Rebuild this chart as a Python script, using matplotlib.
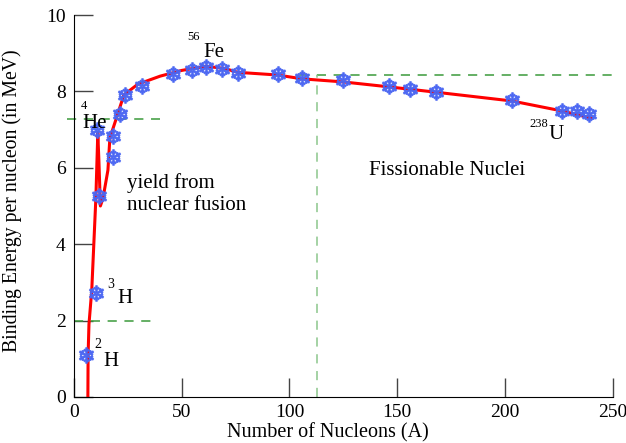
import numpy as np
import matplotlib
matplotlib.use("Agg")
from matplotlib import pyplot as plt

plt.rcParams['font.family'] = ['Liberation Serif', 'DejaVu Serif']

# measured nuclei (A, binding energy per nucleon in MeV)
nuc_A = [5.6, 10.2, 10.7, 11.6, 18.1, 18.1, 21.3, 23.7, 31.5, 45.9, 54.7, 61.2,
         68.6, 76.1, 94.6, 105.8, 124.8, 146.1, 155.8, 167.9, 203.2, 226.3, 233.3, 238.9]
nuc_B = [1.10, 2.72, 6.99, 5.26, 6.83, 6.28, 7.41, 7.91, 8.14, 8.46, 8.56, 8.64,
         8.59, 8.48, 8.46, 8.35, 8.30, 8.14, 8.06, 7.98, 7.77, 7.49, 7.49, 7.41]

# hand drawn trend curve
curve_A = [6.5, 6.6, 7.0, 8.3, 10.2, 11.1, 11.6, 12.3, 13.5, 15.8, 16.7, 19.9, 23.2,
           29.7, 40.0, 50.0, 61.2, 70.0, 76.1, 94.6, 105.8, 124.8, 146.1, 167.9,
           203.2, 226.3, 240.0]
curve_B = [0.0, 1.1, 1.9, 2.8, 5.2, 6.91, 6.2, 5.0, 5.2, 5.94, 6.78, 7.33, 7.91,
           8.19, 8.40, 8.55, 8.66, 8.60, 8.50, 8.43, 8.33, 8.25, 8.12, 7.98,
           7.75, 7.49, 7.30]

fig = plt.figure(figsize=(6.26, 4.43), dpi=100)
ax = fig.add_axes([0.118, 0.104, 0.861, 0.862])

ax.plot(curve_A, curve_B, '-', color='red', lw=2.2, zorder=2)
ax.plot(nuc_A, nuc_B, ls='none', marker='$\u2744$', ms=11, color='#4a66f2',
        alpha=0.9, zorder=3)

# reference lines
g = '#3a9a3a'
ax.plot([-3, 40], [7.28, 7.28], '--', color=g, lw=1.1, dashes=(6, 5), clip_on=False)
ax.plot([0, 37], [2.0, 2.0], '--', color=g, lw=1.1, dashes=(6, 5))
ax.plot([105, 250], [8.43, 8.43], '--', color=g, lw=1.1, dashes=(6, 5))
ax.plot([113, 113], [0, 8.43], '--', color='#8cc68c', lw=1.1, dashes=(6, 5))

# labels
ax.text(3.2, 7.55, '4', fontsize=9)
ax.text(4.0, 7.05, 'He', fontsize=15)
ax.text(15.6, 2.85, '3', fontsize=10)
ax.text(20.0, 2.45, 'H', fontsize=15)
ax.text(9.6, 1.28, '2', fontsize=10)
ax.text(13.5, 0.8, 'H', fontsize=15)
ax.text(52.5, 9.35, '56', fontsize=9)
ax.text(60.0, 8.9, 'Fe', fontsize=15)
ax.text(211.5, 7.08, '238', fontsize=9)
ax.text(220.0, 6.75, 'U', fontsize=15)
ax.text(24.6, 5.85, 'yield from\nnuclear fusion', fontsize=15, va='top', linespacing=1.2)
ax.text(137, 5.8, 'Fissionable Nuclei', fontsize=15)

ax.set_xlim(0, 250)
ax.set_ylim(0, 10)
ax.set_xticks([0, 50, 100, 150, 200, 250])
ax.set_yticks([0, 2, 4, 6, 8, 10])
ax.tick_params(direction='in', length=14, width=1, labelsize=14, color='#444444')
ax.tick_params(axis='x', pad=5)
ax.tick_params(axis='y', pad=6)
ax.spines['top'].set_visible(False)
ax.spines['right'].set_visible(False)
ax.set_xlabel('Number of Nucleons (A)', fontsize=14.5)
ax.xaxis.set_label_coords(0.471, -0.068)
ax.set_ylabel('Binding Energy per nucleon (in MeV)', fontsize=14.2)
ax.yaxis.set_label_coords(-0.097, 0.513)

fig.savefig('out.png', dpi=100)
